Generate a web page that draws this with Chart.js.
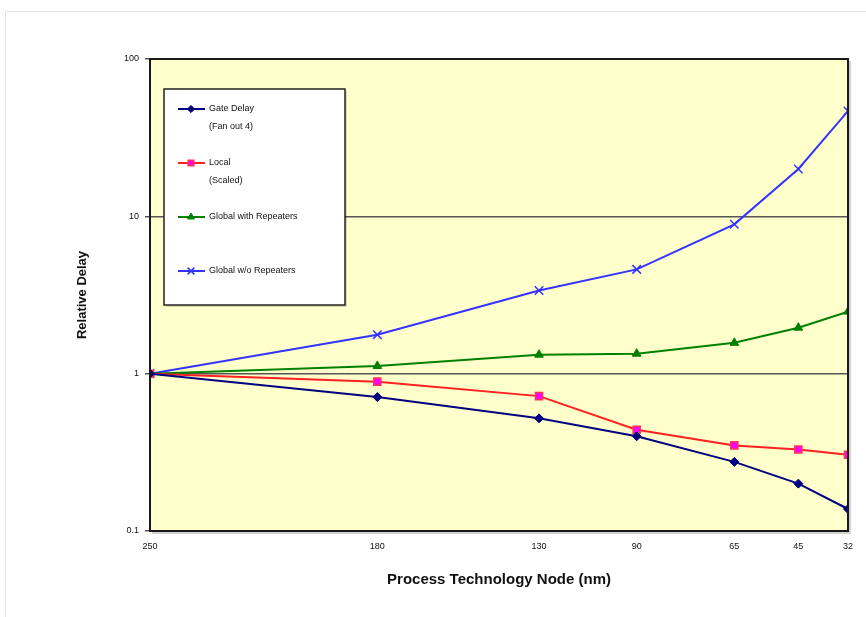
<!DOCTYPE html>
<html>
<head>
<meta charset="utf-8">
<script src="https://cdn.jsdelivr.net/npm/chart.js@4/dist/chart.umd.min.js"></script>
<style>
    html, body { margin: 0; padding: 0; background: #fff; }
    #wrap { position: relative; width: 866px; height: 617px; overflow: hidden; }
    #frame { position: absolute; left: 5px; top: 11px; width: 900px; height: 700px; border: 1px solid #e2e2e2; }
    canvas { position: absolute; left: 0; top: 0; }
</style>
</head>
<body>
<div id="wrap">
    <div id="frame"></div>
    <canvas id="delayChart" width="866" height="617"></canvas>
</div>
<script>
// Process nodes (nm) as labelled, and where each sits on the nm axis in the original plot
const nodes = [250, 180, 130, 90, 65, 45, 32];
const nodeX = [250, 179, 128.5, 98, 67.5, 47.5, 32];
const yTicks = [0.1, 1, 10, 100];

// Relative delay per node
const gateDelay = [1, 0.71, 0.52, 0.40, 0.275, 0.20, 0.138];
const localDelay = [1, 0.89, 0.72, 0.44, 0.35, 0.33, 0.305];
const globalRep = [1, 1.12, 1.32, 1.34, 1.57, 1.96, 2.48];
const globalNoRep = [1, 1.77, 3.38, 4.6, 8.9, 20, 46.7];

const seriesNames = ['Gate Delay', 'Local', 'Global with Repeaters', 'Global w/o Repeaters'];
const seriesSub = ['(Fan out 4)', '(Scaled)', '', ''];

const FONT = "Arial, 'Liberation Sans', sans-serif";

function toPoints(values) {
    return values.map((v, i) => ({ x: nodeX[i], y: v }));
}

// Yellow plot background + dark frame with a soft shadow
const plotFrame = {
    id: 'plotFrame',
    beforeDraw(chart) {
        const { ctx, chartArea: a } = chart;
        ctx.save();
        ctx.fillStyle = '#ffffcc';
        ctx.fillRect(a.left, a.top, a.right - a.left, a.bottom - a.top);
        ctx.restore();
    },
    afterDatasetsDraw(chart) {
        const { ctx, chartArea: a } = chart;
        ctx.save();
        ctx.strokeStyle = 'rgba(0,0,0,0.18)';
        ctx.lineWidth = 2;
        ctx.beginPath();
        ctx.moveTo(a.left + 2, a.bottom + 2);
        ctx.lineTo(a.right + 2, a.bottom + 2);
        ctx.lineTo(a.right + 2, a.top + 2);
        ctx.stroke();
        ctx.strokeStyle = '#1a1a1a';
        ctx.lineWidth = 2;
        ctx.strokeRect(a.left, a.top, a.right - a.left, a.bottom - a.top);
        ctx.restore();
    }
};

// Boxed legend inside the plot, with two-line labels
const boxLegend = {
    id: 'boxLegend',
    afterDraw(chart) {
        const { ctx, chartArea: a } = chart;
        const x0 = a.left + 14, y0 = a.top + 30, w = 181, h = 216;
        ctx.save();
        ctx.fillStyle = 'rgba(0,0,0,0.15)';
        ctx.fillRect(x0 + 2, y0 + 2, w, h);
        ctx.fillStyle = '#fff';
        ctx.fillRect(x0, y0, w, h);
        ctx.strokeStyle = '#222';
        ctx.lineWidth = 1.5;
        ctx.strokeRect(x0, y0, w, h);

        ctx.font = '9px ' + FONT;
        ctx.textBaseline = 'middle';
        chart.data.datasets.forEach((ds, i) => {
            const y = y0 + 20 + i * 54;
            ctx.strokeStyle = ds.borderColor;
            ctx.lineWidth = 2;
            ctx.beginPath();
            ctx.moveTo(x0 + 14, y);
            ctx.lineTo(x0 + 41, y);
            ctx.stroke();

            ctx.save();
            ctx.fillStyle = ds.pointBackgroundColor;
            ctx.strokeStyle = ds.pointBorderColor;
            ctx.lineWidth = ds.pointBorderWidth || 1;
            Chart.helpers.drawPoint(ctx, {
                pointStyle: ds.pointStyle,
                radius: ds.pointRadius * 0.8,
                rotation: 0,
                borderWidth: ds.pointBorderWidth || 1
            }, x0 + 27, y);
            ctx.restore();

            ctx.fillStyle = '#111';
            ctx.textAlign = 'left';
            ctx.fillText(seriesNames[i], x0 + 45, y);
            if (seriesSub[i]) ctx.fillText(seriesSub[i], x0 + 45, y + 18);
        });
        ctx.restore();
    }
};

const ctx = document.getElementById('delayChart').getContext('2d');

new Chart(ctx, {
    type: 'line',
    data: {
        datasets: [
            {
                label: seriesNames[0],
                data: toPoints(gateDelay),
                borderColor: '#000080',
                pointBackgroundColor: '#000080',
                pointBorderColor: '#000080',
                pointStyle: 'rectRot',
                pointRadius: 4.5
            },
            {
                label: seriesNames[1],
                data: toPoints(localDelay),
                borderColor: '#ff2020',
                pointBackgroundColor: '#ff00ff',
                pointBorderColor: '#ff3355',
                pointBorderWidth: 1.5,
                pointStyle: 'rect',
                pointRadius: 5
            },
            {
                label: seriesNames[2],
                data: toPoints(globalRep),
                borderColor: '#008000',
                pointBackgroundColor: '#008000',
                pointBorderColor: '#008000',
                pointStyle: 'triangle',
                pointRadius: 5
            },
            {
                label: seriesNames[3],
                data: toPoints(globalNoRep),
                borderColor: '#3333ff',
                pointBackgroundColor: '#3333ff',
                pointBorderColor: '#3333ff',
                pointBorderWidth: 1.5,
                pointStyle: 'crossRot',
                pointRadius: 6
            }
        ]
    },
    options: {
        responsive: false,
        animation: false,
        elements: {
            line: { borderWidth: 2, tension: 0 }
        },
        layout: {
            padding: { left: 0, top: 59, right: 18, bottom: 0 }
        },
        plugins: {
            legend: { display: false },
            tooltip: { enabled: false }
        },
        scales: {
            x: {
                type: 'linear',
                reverse: true,
                min: 32,
                max: 250,
                afterBuildTicks: scale => {
                    scale.ticks = nodeX.map(v => ({ value: v }));
                },
                afterFit: scale => { scale.height = 86; },
                grid: { display: false },
                border: { display: false },
                ticks: {
                    color: '#111',
                    font: { family: FONT, size: 9 },
                    padding: 2,
                    maxRotation: 0,
                    autoSkip: false,
                    callback: (v, i) => String(nodes[i])
                },
                title: {
                    display: true,
                    text: 'Process Technology Node (nm)',
                    color: '#111',
                    font: { family: FONT, size: 15, weight: 'bold' },
                    padding: { bottom: 28 }
                }
            },
            y: {
                type: 'logarithmic',
                min: 0.1,
                max: 100,
                afterBuildTicks: scale => {
                    scale.ticks = yTicks.map(v => ({ value: v }));
                },
                afterFit: scale => { scale.width = 150; },
                grid: {
                    color: '#555',
                    lineWidth: 1.5,
                    tickLength: 5
                },
                border: { display: false },
                ticks: {
                    color: '#111',
                    font: { family: FONT, size: 9 },
                    padding: 6,
                    callback: v => String(v)
                },
                title: {
                    display: true,
                    text: 'Relative Delay',
                    color: '#111',
                    font: { family: FONT, size: 13, weight: 'bold' },
                    padding: { top: 75 }
                }
            }
        }
    },
    plugins: [plotFrame, boxLegend]
});
</script>
</body>
</html>
